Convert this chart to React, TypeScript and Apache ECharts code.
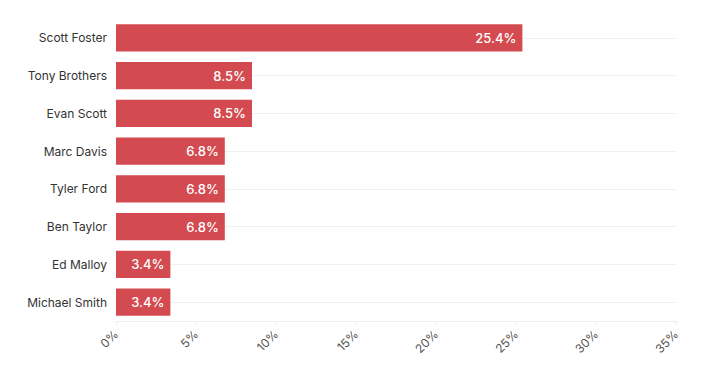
import React, { useEffect, useRef } from "react";
import * as echarts from "echarts";

const categories = ["Scott Foster", "Tony Brothers", "Evan Scott", "Marc Davis", "Tyler Ford", "Ben Taylor", "Ed Malloy", "Michael Smith"];
const values = [25.4, 8.5, 8.5, 6.8, 6.8, 6.8, 3.4, 3.4];
const xTicks = [0, 5, 10, 15, 20, 25, 30, 35];

export default function App() {
  const ref = useRef<HTMLDivElement>(null);
  useEffect(() => {
    if (!ref.current) return;
    const chart = echarts.init(ref.current, null, { renderer: "svg" });
    chart.setOption({
      animation: false,
      textStyle: { fontFamily: "Inter, 'Open Sans', sans-serif" },
      grid: { left: 116, right: 25, top: 19, bottom: 46, containLabel: false },
      xAxis: {
        type: "value",
        min: xTicks[0],
        max: xTicks[xTicks.length - 1],
        interval: 5,
        splitLine: { show: false },
        axisLine: { show: true, lineStyle: { color: "#eeeeee" } },
        axisTick: { show: true, length: 4, lineStyle: { color: "#eeeeee" } },
        axisLabel: { rotate: 45, color: "#555", fontSize: 12, formatter: "{value}%", margin: 11 },
      },
      yAxis: {
        type: "category",
        data: categories,
        inverse: true,
        axisLine: { show: false },
        axisTick: { show: false },
        splitLine: { show: false },
        axisLabel: { color: "#333", fontSize: 12, margin: 9 },
      },
      series: [
        {
          type: "bar",
          data: values,
          barCategoryGap: "28%",
          itemStyle: { color: "#d34b50" },
          label: {
            show: true,
            position: "insideRight",
            color: "#fff",
            fontSize: 13,
            fontWeight: 500,
            distance: 6,
            formatter: (p: any) => p.value.toFixed(1) + "%",
          },
          markLine: {
            silent: true,
            z: 1,
            symbol: ["none", "none"],
            label: { show: false },
            lineStyle: { color: "#f0f0f0", type: "solid", width: 1 },
            data: categories.map((c) => ({ yAxis: c })),
          },
        },
      ],
    });
    return () => chart.dispose();
  }, []);
  return <div ref={ref} style={{ width: 701, height: 367, position: "absolute", left: 0, top: 0 }} />;
}
